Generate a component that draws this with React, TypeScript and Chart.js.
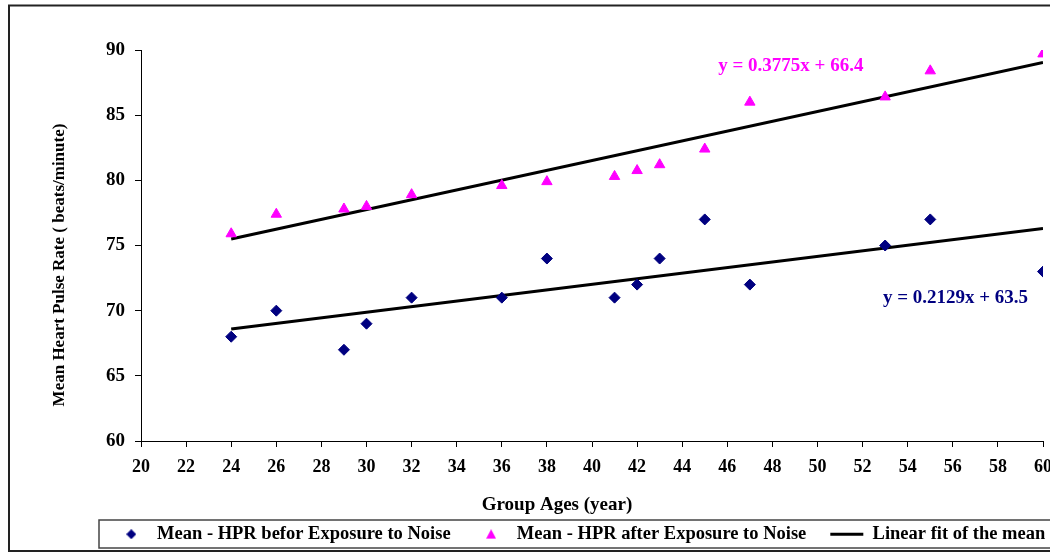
import { useEffect, useRef } from 'react';
import { Chart, registerables, type ChartConfiguration, type Plugin } from 'chart.js';

Chart.register(...registerables);

// group ages (year) and mean heart pulse rate readings
const ages = [24, 26, 29, 30, 32, 36, 38, 41, 42, 43, 45, 47, 53, 55, 60];
const hprBefore = [68, 70, 67, 69, 71, 71, 74, 71, 72, 74, 77, 72, 75, 77, 73];
const hprAfter = [75.9, 77.4, 77.8, 78.0, 78.9, 79.6, 79.9, 80.3, 80.75, 81.2, 82.4, 86.0, 86.4, 88.4, 89.7];

// linear fit end points
const fitAges = [24, 60];
const fitBefore = [68.6, 76.3];
const fitAfter = [75.5, 89.05];

const equations = ['y = 0.3775x + 66.4', 'y = 0.2129x + 63.5'];
const eqColors = ['#FF00FF', '#000080'];
const eqAnchorX = [45.6, 52.9];
const eqAnchorY = [88.8, 71.0];

const legendLabels = [
  'Mean - HPR befor Exposure to Noise',
  'Mean - HPR after Exposure to Noise',
  'Linear fit of the mean',
];
const xTitle = 'Group Ages (year)';
const yTitle = 'Mean Heart Pulse Rate ( beats/minute)';

const FONT = "'Liberation Serif', 'Times New Roman', serif";
const NAVY = '#000080';
const MAGENTA = '#FF00FF';
const W = 1150;
const H = 556;

function icon(kind: 'diamond' | 'triangle') {
  const c = document.createElement('canvas');
  c.width = 10;
  c.height = 10;
  const g = c.getContext('2d')!;
  g.beginPath();
  if (kind === 'diamond') {
    g.moveTo(5, 0); g.lineTo(10, 5); g.lineTo(5, 10); g.lineTo(0, 5);
    g.fillStyle = NAVY;
  } else {
    g.moveTo(5, 0); g.lineTo(10, 9.5); g.lineTo(0, 9.5);
    g.fillStyle = MAGENTA;
  }
  g.closePath();
  g.fill();
  return c;
}

const decor: Plugin = {
  id: 'decor',
  beforeDraw(chart) {
    const { ctx, width, height } = chart;
    ctx.save();
    ctx.fillStyle = '#fff';
    ctx.fillRect(0, 0, width, height);
    ctx.strokeStyle = '#222';
    ctx.lineWidth = 2;
    ctx.strokeRect(9, 5.5, width, 545.5);
    ctx.strokeStyle = '#444';
    ctx.lineWidth = 1.5;
    ctx.strokeRect(99, 520, width, 28);
    ctx.restore();
  },
  afterDraw(chart) {
    const { ctx } = chart;
    const xs = chart.scales.x;
    const ys = chart.scales.y;
    ctx.save();
    ctx.fillStyle = '#000';
    ctx.textAlign = 'center';
    ctx.textBaseline = 'middle';
    ctx.font = `bold 19px ${FONT}`;
    ctx.fillText(xTitle, 557, 505);
    ctx.save();
    ctx.translate(60, 265);
    ctx.rotate(-Math.PI / 2);
    ctx.font = `bold 17px ${FONT}`;
    ctx.fillText(yTitle, 0, 0);
    ctx.restore();
    ctx.textAlign = 'left';
    ctx.font = `bold 19px ${FONT}`;
    equations.forEach((t, i) => {
      ctx.fillStyle = eqColors[i];
      ctx.fillText(t, xs.getPixelForValue(eqAnchorX[i]), ys.getPixelForValue(eqAnchorY[i]));
    });
    ctx.restore();
  },
};

export default function App() {
  const ref = useRef<HTMLCanvasElement>(null);

  useEffect(() => {
    document.body.style.margin = '0';
    document.body.style.overflow = 'hidden';
    if (!ref.current) return;
    const diamond = icon('diamond');
    const triangle = icon('triangle');
    const tickFont = { family: FONT, size: 18, weight: 'bold' as const };

    const config: ChartConfiguration<'scatter'> = {
      type: 'scatter',
      data: {
        datasets: [
          {
            label: legendLabels[0],
            data: ages.map((a, i) => ({ x: a, y: hprBefore[i] })),
            pointStyle: 'rectRot',
            pointRadius: 5.5,
            backgroundColor: NAVY,
            borderColor: NAVY,
            borderWidth: 1,
          },
          {
            label: legendLabels[1],
            data: ages.map((a, i) => ({ x: a, y: hprAfter[i] })),
            pointStyle: 'triangle',
            pointRadius: 6,
            backgroundColor: MAGENTA,
            borderColor: MAGENTA,
            borderWidth: 1,
          },
          {
            label: legendLabels[2],
            data: fitAges.map((a, i) => ({ x: a, y: fitBefore[i] })),
            showLine: true,
            pointRadius: 0,
            pointStyle: 'line',
            borderColor: '#000',
            borderWidth: 3,
          },
          {
            label: legendLabels[2],
            data: fitAges.map((a, i) => ({ x: a, y: fitAfter[i] })),
            showLine: true,
            pointRadius: 0,
            pointStyle: 'line',
            borderColor: '#000',
            borderWidth: 3,
          },
        ],
      },
      options: {
        responsive: false,
        animation: false,
        layout: { padding: { left: 20, top: 50, right: 10, bottom: 2.5 } },
        scales: {
          x: {
            type: 'linear',
            min: 20,
            max: 60,
            ticks: { stepSize: 2, padding: 10, color: '#000', font: tickFont, autoSkip: false, maxRotation: 0 },
            grid: { drawOnChartArea: false, drawTicks: true, tickLength: 6, color: '#000' },
            border: { color: '#000', width: 1 },
            afterFit: (s) => { s.height = 60; },
          },
          y: {
            type: 'linear',
            min: 60,
            max: 90,
            ticks: { stepSize: 5, padding: 10, color: '#000', font: { ...tickFont, size: 19 } },
            grid: { drawOnChartArea: false, drawTicks: true, tickLength: 6, color: '#000' },
            border: { color: '#000', width: 1 },
            afterFit: (s) => { s.width = 121; },
          },
          pad: {
            type: 'linear',
            position: 'right',
            display: true,
            ticks: { display: false },
            grid: { display: false },
            border: { display: false },
            afterFit: (s) => { s.width = 97; },
          },
        },
        plugins: {
          tooltip: { enabled: false },
          legend: {
            position: 'bottom',
            labels: {
              usePointStyle: true,
              pointStyleWidth: 33,
              padding: 24,
              color: '#000',
              font: { ...tickFont, size: 18.5 },
              filter: (item) => item.datasetIndex !== 3,
              generateLabels: (chart) => {
                const items = Chart.defaults.plugins.legend.labels.generateLabels(chart);
                return items.map((it) => {
                  if (it.datasetIndex === 0) it.pointStyle = diamond;
                  if (it.datasetIndex === 1) it.pointStyle = triangle;
                  if (it.datasetIndex === 2 || it.datasetIndex === 3) {
                    it.pointStyle = 'line';
                    it.lineWidth = 3;
                    it.strokeStyle = '#000';
                  }
                  return it;
                });
              },
            },
          },
        },
      },
      plugins: [decor],
    };

    const chart = new Chart(ref.current, config);
    return () => chart.destroy();
  }, []);

  return (
    <div style={{ width: 1050, height: H, overflow: 'hidden' }}>
      <canvas ref={ref} width={W} height={H} style={{ width: W, height: H, display: 'block' }} />
    </div>
  );
}
